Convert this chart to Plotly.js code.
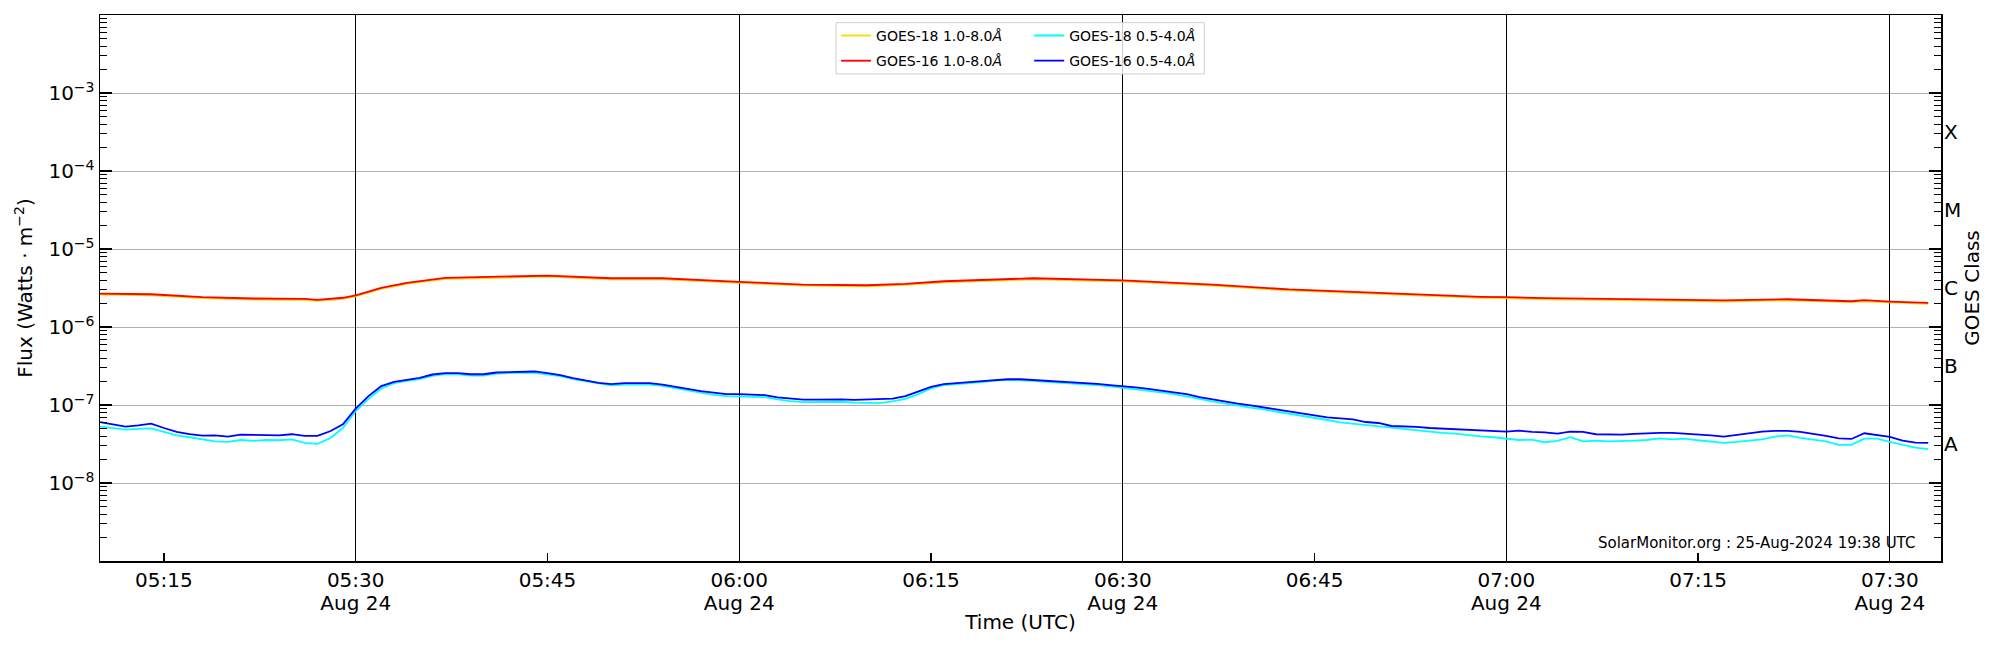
<!DOCTYPE html>
<html>
<head>
<meta charset="utf-8">
<script src="https://cdn.plot.ly/plotly-3.0.1.min.js"></script>
<style>
  html, body { margin: 0; padding: 0; background: #fff; }
  #myDiv { width: 2000px; height: 650px; }
</style>
</head>
<body>
<div id="myDiv"></div>
<script>
// minutes after 05:10 UTC on 24 Aug 2024
var longMinutes = [0, 4, 8, 12, 16, 17, 19, 20, 22, 24, 27, 29, 35, 40, 44, 50, 55, 60, 63, 66,
  73, 80, 87, 93, 101, 108, 110, 113, 118, 124, 127, 132, 137, 138, 140, 143];

// GOES-16 1.0-8.0 A
var g16Long = [2.68e-6, 2.63e-6, 2.41e-6, 2.32e-6, 2.30e-6, 2.23e-6, 2.37e-6, 2.55e-6, 3.18e-6, 3.68e-6,
  4.26e-6, 4.34e-6, 4.56e-6, 4.22e-6, 4.22e-6, 3.79e-6, 3.50e-6, 3.43e-6, 3.57e-6, 3.86e-6,
  4.22e-6, 3.97e-6, 3.50e-6, 3.03e-6, 2.69e-6, 2.44e-6, 2.41e-6, 2.34e-6, 2.30e-6, 2.23e-6,
  2.19e-6, 2.27e-6, 2.14e-6, 2.21e-6, 2.12e-6, 2.04e-6];

// GOES-18 1.0-8.0 A
var g18Long = [2.60e-6, 2.55e-6, 2.34e-6, 2.25e-6, 2.23e-6, 2.17e-6, 2.30e-6, 2.47e-6, 3.08e-6, 3.57e-6,
  4.13e-6, 4.21e-6, 4.42e-6, 4.09e-6, 4.09e-6, 3.68e-6, 3.40e-6, 3.33e-6, 3.46e-6, 3.74e-6,
  4.09e-6, 3.85e-6, 3.40e-6, 2.94e-6, 2.61e-6, 2.37e-6, 2.34e-6, 2.27e-6, 2.23e-6, 2.16e-6,
  2.12e-6, 2.20e-6, 2.08e-6, 2.14e-6, 2.06e-6, 1.98e-6];

// one value per minute from 05:10 to 07:33
// GOES-16 0.5-4.0 A
var g16Short = [
  6.05e-8, 5.65e-8, 5.28e-8, 5.48e-8, 5.76e-8, 5.07e-8, 4.51e-8, 4.22e-8, 4.05e-8, 4.09e-8,
  3.93e-8, 4.17e-8, 4.13e-8, 4.13e-8, 4.09e-8, 4.22e-8, 4.01e-8, 4.01e-8, 4.60e-8, 5.65e-8,
  8.96e-8, 1.30e-7, 1.75e-7, 1.98e-7, 2.12e-7, 2.23e-7, 2.46e-7, 2.56e-7, 2.56e-7, 2.48e-7,
  2.48e-7, 2.61e-7, 2.64e-7, 2.69e-7, 2.69e-7, 2.56e-7, 2.41e-7, 2.21e-7, 2.06e-7, 1.92e-7,
  1.85e-7, 1.91e-7, 1.91e-7, 1.91e-7, 1.83e-7, 1.71e-7, 1.60e-7, 1.51e-7, 1.44e-7, 1.38e-7,
  1.38e-7, 1.35e-7, 1.34e-7, 1.25e-7, 1.20e-7, 1.17e-7, 1.17e-7, 1.18e-7, 1.18e-7, 1.16e-7,
  1.17e-7, 1.18e-7, 1.21e-7, 1.30e-7, 1.49e-7, 1.71e-7, 1.85e-7, 1.92e-7, 1.96e-7, 2.02e-7,
  2.10e-7, 2.14e-7, 2.14e-7, 2.10e-7, 2.06e-7, 2.02e-7, 1.98e-7, 1.94e-7, 1.87e-7, 1.80e-7,
  1.75e-7, 1.68e-7, 1.61e-7, 1.52e-7, 1.45e-7, 1.38e-7, 1.26e-7, 1.18e-7, 1.10e-7, 1.04e-7,
  9.89e-8, 9.41e-8, 8.79e-8, 8.29e-8, 7.82e-8, 7.36e-8, 6.95e-8, 6.74e-8, 6.55e-8, 6.05e-8,
  5.88e-8, 5.38e-8, 5.33e-8, 5.23e-8, 5.07e-8, 4.97e-8, 4.83e-8, 4.74e-8, 4.65e-8, 4.65e-8,
  4.56e-8, 4.69e-8, 4.51e-8, 4.47e-8, 4.30e-8, 4.56e-8, 4.51e-8, 4.22e-8, 4.17e-8, 4.17e-8,
  4.26e-8, 4.34e-8, 4.38e-8, 4.38e-8, 4.30e-8, 4.13e-8, 4.09e-8, 3.93e-8, 4.13e-8, 4.30e-8,
  4.56e-8, 4.65e-8, 4.65e-8, 4.51e-8, 4.30e-8, 4.01e-8, 3.74e-8, 3.67e-8, 4.34e-8, 4.13e-8,
  3.89e-8, 3.49e-8, 3.29e-8, 3.26e-8];

// GOES-18 0.5-4.0 A
var g18Short = [
  5.28e-8, 5.02e-8, 4.83e-8, 4.93e-8, 5.02e-8, 4.51e-8, 4.09e-8, 3.86e-8, 3.63e-8, 3.42e-8,
  3.36e-8, 3.56e-8, 3.46e-8, 3.56e-8, 3.53e-8, 3.63e-8, 3.26e-8, 3.17e-8, 3.74e-8, 5.07e-8,
  8.37e-8, 1.20e-7, 1.63e-7, 1.91e-7, 2.04e-7, 2.14e-7, 2.37e-7, 2.48e-7, 2.48e-7, 2.39e-7,
  2.39e-7, 2.53e-7, 2.56e-7, 2.61e-7, 2.58e-7, 2.48e-7, 2.34e-7, 2.14e-7, 2.00e-7, 1.87e-7,
  1.78e-7, 1.82e-7, 1.82e-7, 1.82e-7, 1.76e-7, 1.64e-7, 1.54e-7, 1.44e-7, 1.35e-7, 1.30e-7,
  1.29e-7, 1.28e-7, 1.26e-7, 1.18e-7, 1.12e-7, 1.09e-7, 1.09e-7, 1.09e-7, 1.10e-7, 1.07e-7,
  1.06e-7, 1.06e-7, 1.11e-7, 1.20e-7, 1.38e-7, 1.63e-7, 1.80e-7, 1.87e-7, 1.91e-7, 1.96e-7,
  2.06e-7, 2.10e-7, 2.08e-7, 2.04e-7, 1.98e-7, 1.94e-7, 1.91e-7, 1.87e-7, 1.80e-7, 1.73e-7,
  1.66e-7, 1.60e-7, 1.54e-7, 1.45e-7, 1.38e-7, 1.30e-7, 1.20e-7, 1.11e-7, 1.04e-7, 9.69e-8,
  9.23e-8, 8.79e-8, 8.29e-8, 7.82e-8, 7.36e-8, 6.81e-8, 6.42e-8, 6.00e-8, 5.76e-8, 5.54e-8,
  5.28e-8, 5.07e-8, 4.88e-8, 4.69e-8, 4.56e-8, 4.38e-8, 4.30e-8, 4.09e-8, 3.97e-8, 3.86e-8,
  3.67e-8, 3.56e-8, 3.60e-8, 3.33e-8, 3.46e-8, 3.86e-8, 3.42e-8, 3.49e-8, 3.42e-8, 3.42e-8,
  3.49e-8, 3.56e-8, 3.74e-8, 3.63e-8, 3.71e-8, 3.53e-8, 3.36e-8, 3.26e-8, 3.36e-8, 3.49e-8,
  3.63e-8, 3.93e-8, 4.09e-8, 3.78e-8, 3.56e-8, 3.42e-8, 3.08e-8, 3.08e-8, 3.71e-8, 3.71e-8,
  3.36e-8, 3.11e-8, 2.84e-8, 2.71e-8];

var tickTimes = ['05:15', '05:30', '05:45', '06:00', '06:15', '06:30', '06:45', '07:00', '07:15', '07:30'];
var lineTimes = ['05:30', '06:00', '06:30', '07:00', '07:30'];
var dateLabel = 'Aug 24';
var decades = [-8, -7, -6, -5, -4, -3];
var classNames = ['A', 'B', 'C', 'M', 'X'];
var classExps = [-7.5, -6.5, -5.5, -4.5, -3.5];

var day = '2024-08-24 ';
function pad(n) { return (n < 10 ? '0' : '') + n; }
function stamp(min) {
  var total = 5 * 60 + 10 + min;
  return day + pad(Math.floor(total / 60)) + ':' + pad(total % 60);
}

var shortTimes = g16Short.map(function (v, i) { return stamp(i); });
var longTimes = longMinutes.map(stamp);

var minorVals = [];
for (var e = -9; e < -2; e++) {
  for (var k = 2; k < 10; k++) minorVals.push(k * Math.pow(10, e));
}

var font = 'DejaVu Sans, Verdana, sans-serif';

var data = [
  { x: longTimes, y: g18Long, type: 'scatter', mode: 'lines', name: 'GOES-18 1.0-8.0<i>Å</i>',
    line: { color: '#ffd700', width: 1.8 }, legend: 'legend', legendgroup: 'a' },
  { x: longTimes, y: g16Long, type: 'scatter', mode: 'lines', name: 'GOES-16 1.0-8.0<i>Å</i>',
    line: { color: '#ff0000', width: 1.8 }, legend: 'legend', legendgroup: 'b' },
  { x: shortTimes, y: g18Short, type: 'scatter', mode: 'lines', name: 'GOES-18 0.5-4.0<i>Å</i>',
    line: { color: '#00ffff', width: 1.8 }, legend: 'legend2', legendgroup: 'c' },
  { x: shortTimes, y: g16Short, type: 'scatter', mode: 'lines', name: 'GOES-16 0.5-4.0<i>Å</i>',
    line: { color: '#0000ff', width: 1.8 }, legend: 'legend2', legendgroup: 'd' },
  { x: [], y: [], xaxis: 'x2', yaxis: 'y2', showlegend: false, hoverinfo: 'skip' }
];

var xRange = [day + '05:10', day + '07:34'];

var layout = {
  width: 2000,
  height: 650,
  margin: { l: 100, r: 59, t: 15, b: 89 },
  paper_bgcolor: '#fff',
  plot_bgcolor: '#fff',
  font: { family: font, size: 20, color: '#000' },
  showlegend: true,
  legend: {
    x: 0.3998, y: 0.991, xanchor: 'left', yanchor: 'top',
    bgcolor: 'rgba(0,0,0,0)', borderwidth: 0,
    font: { family: font, size: 14 },
    traceorder: 'grouped', tracegroupgap: 4
  },
  legend2: {
    x: 0.5047, y: 0.991, xanchor: 'left', yanchor: 'top',
    bgcolor: 'rgba(0,0,0,0)', borderwidth: 0,
    font: { family: font, size: 14 },
    traceorder: 'grouped', tracegroupgap: 4
  },
  xaxis: {
    type: 'date',
    range: xRange,
    tickmode: 'array',
    tickvals: tickTimes.map(function (t) { return day + t; }),
    ticktext: tickTimes,
    ticks: 'inside', ticklen: 8, tickwidth: 1.2, tickcolor: '#000',
    showgrid: false, zeroline: false,
    showline: true, linecolor: '#000', linewidth: 1.5, mirror: true,
    tickfont: { size: 20 },
    title: { text: 'Time (UTC)', font: { size: 20 }, standoff: 24 },
    automargin: false
  },
  xaxis2: {
    type: 'date',
    overlaying: 'x',
    anchor: 'y2',
    side: 'bottom',
    range: xRange,
    tickmode: 'array',
    tickvals: lineTimes.map(function (t) { return day + t; }),
    ticktext: lineTimes.map(function () { return dateLabel; }),
    showticklabels: true, ticks: '',
    ticklabelstandoff: 28,
    tickfont: { size: 20 },
    showgrid: true, gridcolor: '#000', gridwidth: 1,
    zeroline: false, showline: false,
    automargin: false
  },
  yaxis: {
    type: 'log',
    range: [-9, -2],
    tickmode: 'array',
    tickvals: decades.map(function (d) { return Math.pow(10, d); }),
    ticktext: decades.map(function (d) { return '10<sup>\u2212' + (-d) + '</sup>'; }),
    ticks: 'inside', ticklen: 12, tickwidth: 1.2, tickcolor: '#000',
    minor: { tickmode: 'array', tickvals: minorVals, ticks: 'inside', ticklen: 7, tickwidth: 1, tickcolor: '#000', showgrid: false },
    showgrid: true, gridcolor: '#b0b0b0', gridwidth: 1,
    zeroline: false,
    showline: true, linecolor: '#000', linewidth: 1.5, mirror: 'allticks',
    tickfont: { size: 20 },
    title: { text: 'Flux (Watts \u00b7 m<sup>\u22122</sup>)', font: { size: 20 }, standoff: 10 },
    automargin: false
  },
  yaxis2: {
    type: 'log',
    overlaying: 'y',
    anchor: 'x2',
    side: 'right',
    range: [-9, -2],
    tickmode: 'array',
    tickvals: classExps.map(function (d) { return Math.pow(10, d); }),
    ticktext: classNames,
    ticks: '', showgrid: false, zeroline: false, showline: false,
    ticklabelstandoff: 2,
    tickfont: { size: 20 },
    title: { text: 'GOES Class', font: { size: 20 }, standoff: 4 },
    automargin: false
  },
  shapes: [{
    type: 'rect', xref: 'paper', yref: 'paper',
    x0: 0.3998, x1: 0.5998, y0: 0.892, y1: 0.986,
    line: { color: '#d0d0d0', width: 1 },
    fillcolor: 'rgba(255,255,255,0.8)',
    layer: 'above'
  }],
  annotations: [{
    xref: 'paper', yref: 'paper', x: 0.987, y: 0.033,
    xanchor: 'right', yanchor: 'middle',
    text: 'SolarMonitor.org : 25-Aug-2024 19:38 UTC',
    showarrow: false,
    font: { family: font, size: 15, color: '#000' }
  }]
};

Plotly.newPlot('myDiv', data, layout, { displayModeBar: false, staticPlot: true });
</script>
</body>
</html>
